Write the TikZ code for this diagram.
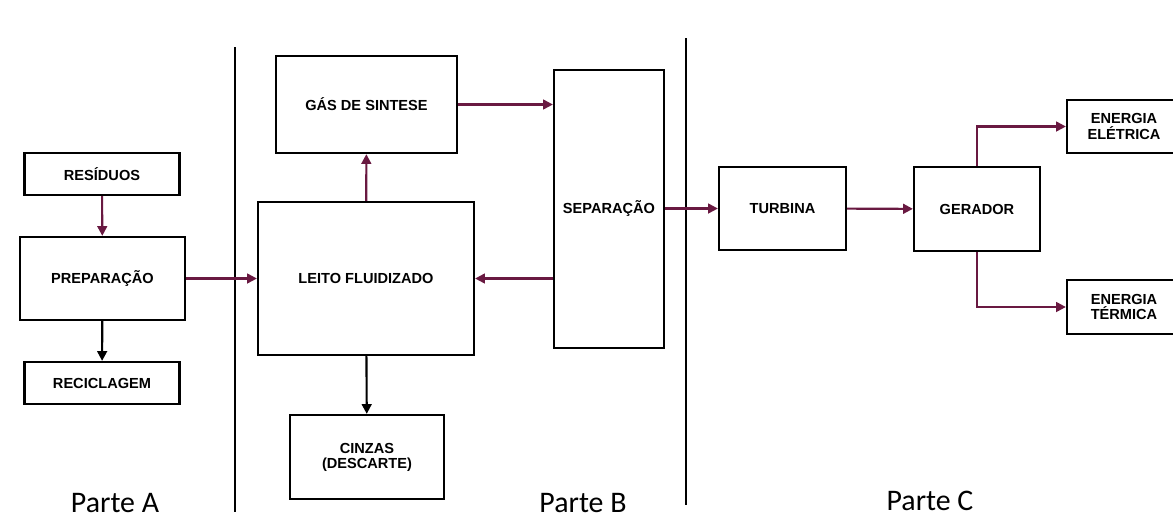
\documentclass[tikz,border=0pt]{standalone}
\usepackage{fontspec}
\setmainfont{Liberation Sans}
\newfontfamily\partefont{Carlito}
\usetikzlibrary{positioning,arrows.meta,calc}
\definecolor{fluxo}{RGB}{105,25,65}

\tikzset{
  caixa/.style={draw,line width=1.3pt,inner sep=1pt,align=center,
    font=\bfseries\fontsize{8.3}{8.6}\selectfont},
  seta/.style={line width=1.2pt,fluxo,-{Triangle[length=5.5pt,width=5.5pt]}},
  setapreta/.style={line width=1.2pt,black,-{Triangle[length=5.5pt,width=5.5pt]}},
  parte/.style={font=\partefont\fontsize{17}{19}\selectfont,anchor=north}
}

\begin{document}
\begin{tikzpicture}[x=0.02cm,y=-0.02cm]
\useasboundingbox (0,0) rectangle (1173,518);
% Parte A
\node[caixa,minimum width=3.1cm,minimum height=0.84cm] (res) at (102,174) {RES\'IDUOS};
\node[caixa,minimum width=3.3cm,minimum height=1.66cm] (prep) at (102.5,278.5) {PREPARA\c{C}\~AO};
\node[caixa,minimum width=3.1cm,minimum height=0.84cm] (recic) at (102,383) {RECICLAGEM};
% Parte B
\node[caixa,minimum width=3.62cm,minimum height=1.94cm] (gas) at (366.5,104.5) {G\'AS DE SINTESE};
\node[caixa,minimum width=4.32cm,minimum height=3.06cm] (leito) at (366,278.5) {LEITO FLUIDIZADO};
\node[caixa,minimum width=3.08cm,minimum height=1.68cm] (cinzas) at (367,457) {CINZAS\\(DESCARTE)};
\node[caixa,minimum width=2.2cm,minimum height=5.56cm] (sep) at (609,209) {SEPARA\c{C}\~AO};
% Parte C
\node[caixa,minimum width=2.54cm,minimum height=1.66cm] (turb) at (782.5,208.5) {TURBINA};
\node[caixa,minimum width=2.52cm,minimum height=1.68cm] (ger) at (977,209) {GERADOR};
\node[caixa,minimum width=2.28cm,minimum height=1.06cm] (eletr) at (1124,126.5) {ENERGIA\\EL\'ETRICA};
\node[caixa,minimum width=2.28cm,minimum height=1.08cm] (term) at (1124,307) {ENERGIA\\T\'ERMICA};

% Divisoes
\draw[line width=1.3pt] (235,47) -- (235,512);
\draw[line width=1.3pt] (686,38) -- (686,505);
\node[parte] (pa) at (115,487) {Parte A};
\node[parte] (pb) at (583,487) {Parte B};
\node[parte] (pc) at (930,485) {Parte C};

% Fluxos
\draw[seta] (res) -- (prep);
\draw[setapreta] (prep) -- (recic);
\draw[seta] (prep) -- (leito);
\draw[seta] (leito) -- (gas);
\draw[setapreta] (leito) -- (cinzas);
\draw[seta] (gas.east) -- (gas.east -| sep.west);
\draw[seta] (sep.west |- leito.east) -- (leito.east);
\draw[seta] (sep.east |- turb.west) -- (turb.west);
\draw[seta] (turb) -- (ger);
\draw[seta] (ger.north) |- (eletr.west);
\draw[seta] (ger.south) |- (term.west);
\end{tikzpicture}
\end{document}
